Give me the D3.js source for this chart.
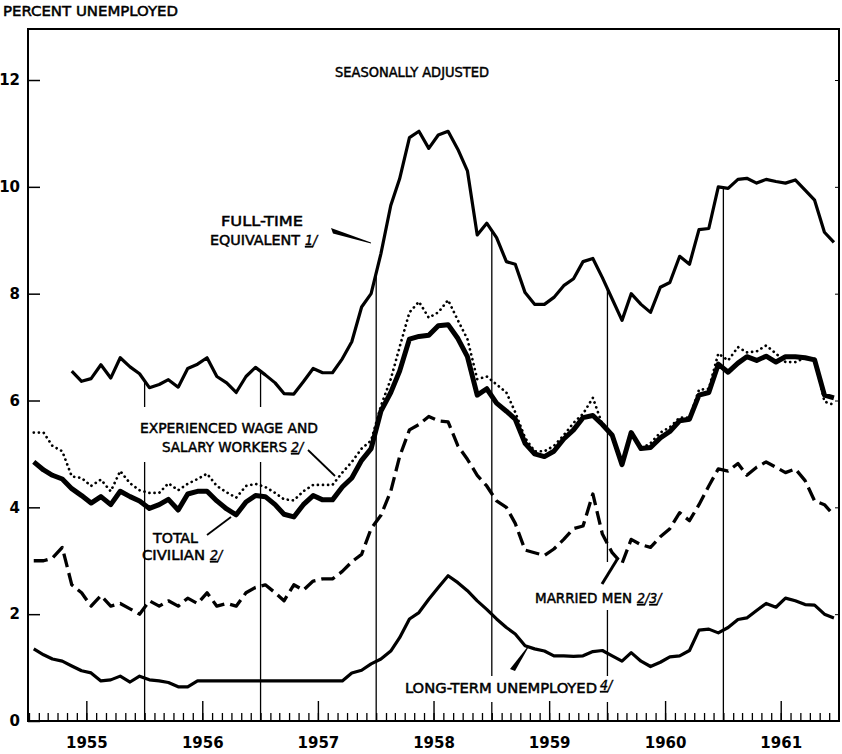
<!DOCTYPE html>
<html>
<head>
<meta charset="utf-8">
<script src="https://cdn.jsdelivr.net/npm/d3@7"></script>
<style>
  body { margin: 0; background: #fff; }
  svg { display: block; font-family: "DejaVu Sans Condensed", "DejaVu Sans", sans-serif; }
</style>
</head>
<body>
<div id="chart"></div>
<script>
// monthly values, Jan 1955 - Dec 1961 (seasonally adjusted, percent)
const years = [1955, 1956, 1957, 1958, 1959, 1960, 1961]
const yTicks = [0, 2, 4, 6, 8, 10, 12]

const fullTime = [
  null, null, null, null, 6.55, 6.36, 6.41, 6.67, 6.42, 6.8, 6.63, 6.5,
  6.24, 6.3, 6.39, 6.25, 6.6, 6.68, 6.8, 6.45, 6.33, 6.15, 6.45, 6.62,
  6.48, 6.33, 6.13, 6.12, 6.35, 6.6, 6.52, 6.52, 6.78, 7.1, 7.75, 8.0,
  8.75, 9.65, 10.15, 10.92, 11.04, 10.72, 10.97, 11.04, 10.7, 10.3, 9.1, 9.32,
  9.05, 8.6, 8.55, 8.02, 7.8, 7.8, 7.93, 8.15, 8.28, 8.6, 8.66, 8.3,
  7.9, 7.5, 8.0, 7.8, 7.65, 8.12, 8.21, 8.7, 8.55, 9.2, 9.22, 10.0,
  9.97, 10.14, 10.16, 10.07, 10.14, 10.1, 10.07, 10.13, 9.94, 9.75, 9.15, 8.96
]
const experienced = [
  5.4, 5.4, 5.15, 5.05, 4.58, 4.55, 4.4, 4.52, 4.3, 4.68, 4.45, 4.32,
  4.27, 4.27, 4.45, 4.32, 4.44, 4.53, 4.63, 4.4, 4.28, 4.18, 4.4, 4.44,
  4.38, 4.27, 4.15, 4.13, 4.3, 4.42, 4.42, 4.42, 4.65, 4.85, 5.1, 5.25,
  5.9, 6.4, 7.0, 7.65, 7.85, 7.55, 7.65, 7.88, 7.5, 7.15, 6.4, 6.45,
  6.3, 6.15, 5.78, 5.3, 5.05, 5.05, 5.15, 5.35, 5.58, 5.75, 6.05, 5.55,
  5.35, 4.85, 5.4, 5.1, 5.2, 5.4, 5.5, 5.68, 5.68, 6.2, 6.22, 6.88,
  6.75, 7.0, 6.9, 6.92, 7.03, 6.88, 6.72, 6.72, 6.8, 6.78, 5.98, 5.92
]
const totalCivilian = [
  4.85, 4.7, 4.6, 4.53, 4.35, 4.22, 4.08, 4.2, 4.05, 4.3, 4.2, 4.12,
  3.98, 4.05, 4.15, 3.95, 4.25, 4.3, 4.3, 4.12, 3.97, 3.86, 4.1, 4.22,
  4.2, 4.05, 3.87, 3.82, 4.05, 4.22, 4.14, 4.14, 4.38, 4.55, 4.88, 5.1,
  5.8, 6.15, 6.55, 7.15, 7.2, 7.22, 7.4, 7.42, 7.16, 6.82, 6.1, 6.22,
  5.95, 5.8, 5.65, 5.2, 5.0, 4.95, 5.05, 5.28, 5.45, 5.68, 5.72, 5.55,
  5.35, 4.8, 5.4, 5.1, 5.12, 5.3, 5.42, 5.62, 5.65, 6.1, 6.15, 6.68,
  6.53, 6.7, 6.82, 6.75, 6.83, 6.72, 6.82, 6.82, 6.8, 6.76, 6.1, 6.05
]
const marriedMen = [
  3.0, 3.0, 3.05, 3.25, 2.55, 2.4, 2.15, 2.35, 2.15, 2.2, 2.1, 2.0,
  2.25, 2.15, 2.25, 2.15, 2.3, 2.2, 2.4, 2.15, 2.2, 2.15, 2.4, 2.5,
  2.55, 2.4, 2.25, 2.55, 2.45, 2.62, 2.66, 2.66, 2.8, 2.98, 3.12, 3.6,
  3.85, 4.3, 4.95, 5.45, 5.55, 5.7, 5.62, 5.6, 5.15, 4.9, 4.6, 4.4,
  4.12, 4.0, 3.7, 3.2, 3.15, 3.1, 3.22, 3.4, 3.6, 3.65, 4.25, 3.5,
  3.15, 2.95, 3.4, 3.3, 3.25, 3.45, 3.6, 3.9, 3.75, 4.05, 4.4, 4.72,
  4.68, 4.82, 4.6, 4.75, 4.85, 4.75, 4.65, 4.72, 4.5, 4.12, 4.05, 3.85
]
const longTerm = [
  1.35, 1.24, 1.16, 1.12, 1.03, 0.94, 0.9, 0.75, 0.77, 0.84, 0.73, 0.84,
  0.77, 0.75, 0.72, 0.64, 0.64, 0.75, 0.75, 0.75, 0.75, 0.75, 0.75, 0.75,
  0.75, 0.75, 0.75, 0.75, 0.75, 0.75, 0.75, 0.75, 0.75, 0.9, 0.95, 1.07,
  1.16, 1.31, 1.56, 1.91, 2.03, 2.28, 2.5, 2.72, 2.59, 2.44, 2.25, 2.09,
  1.91, 1.75, 1.63, 1.41, 1.35, 1.31, 1.22, 1.22, 1.21, 1.22, 1.3, 1.32,
  1.22, 1.12, 1.28, 1.12, 1.02, 1.1, 1.2, 1.22, 1.32, 1.7, 1.72, 1.65,
  1.75, 1.9, 1.93, 2.07, 2.2, 2.13, 2.3, 2.25, 2.18, 2.17, 2.0, 1.93
]

const width = 842
const height = 754
const margin = { top: 29, right: 3, bottom: 33, left: 28 }

const start = new Date(years[0], 0, 1)
const end = new Date(years[years.length - 1] + 1, 0, 1)
const months = d3.timeMonth.range(start, end)
const midMonth = m => new Date(m.getFullYear(), m.getMonth(), 16)

const x = d3.scaleTime()
  .domain([start, end])
  .range([margin.left + 1, width - margin.right])
const y = d3.scaleLinear()
  .domain([0, 12.955])
  .range([height - margin.bottom, margin.top])

const svg = d3.select('#chart')
  .append('svg')
  .attr('width', width)
  .attr('height', height)

const series = [
  { key: 'fullTime', values: fullTime, width: 3.2 },
  { key: 'experienced', values: experienced, width: 2.7, dash: '0.1 5', cap: 'round' },
  { key: 'totalCivilian', values: totalCivilian, width: 5 },
  { key: 'marriedMen', values: marriedMen, width: 3.3, dash: '14 6' },
  { key: 'longTerm', values: longTerm, width: 3.2 }
]

//year dividers run from the axis up to the full-time curve
const dividers = years.slice(1).map(yr => {
  const i = (yr - years[0]) * 12
  return { date: new Date(yr, 0, 1), top: (fullTime[i - 1] + fullTime[i]) / 2 }
})
svg.append('g')
  .selectAll('line')
  .data(dividers)
  .join('line')
  .attr('x1', d => x(d.date))
  .attr('x2', d => x(d.date))
  .attr('y1', d => y(d.top))
  .attr('y2', y(0))
  .attr('stroke', '#000')
  .attr('stroke-width', 1.3)

// white patches where the lettering breaks the dividers
const patches = [[137, 407, 185, 55], [532, 562, 140, 48], [402, 676, 222, 26]]
svg.append('g')
  .selectAll('rect')
  .data(patches)
  .join('rect')
  .attr('x', d => d[0]).attr('y', d => d[1])
  .attr('width', d => d[2]).attr('height', d => d[3])
  .attr('fill', '#fff')

// axes
const monthAxis = d3.axisBottom(x).tickValues(months).tickSize(-8).tickFormat('')
const yearAxis = d3.axisBottom(x)
  .tickValues(years.map(yr => new Date(yr, 6, 1)))
  .tickSize(-20)
  .tickPadding(16)
  .tickFormat(d3.timeFormat('%Y'))

svg.append('g')
  .attr('transform', `translate(0,${y(0)})`)
  .call(monthAxis)
  .call(g => g.select('.domain').remove())
  .call(g => g.selectAll('line').attr('stroke-width', 1.3))
svg.append('g')
  .attr('transform', `translate(0,${y(0)})`)
  .call(yearAxis)
  .call(g => g.select('.domain').remove())
  .call(g => g.selectAll('line').attr('stroke-width', 1.4))
  .call(g => g.selectAll('text')
    .attr('font-family', '"DejaVu Sans", sans-serif')
    .attr('font-weight', 'bold')
    .attr('font-size', 15)
    .attr('fill', '#000'))

svg.append('g')
  .attr('transform', `translate(${margin.left},0)`)
  .call(d3.axisLeft(y).tickValues(yTicks).tickSize(-12).tickPadding(8))
  .call(g => g.select('.domain').remove())
  .call(g => g.selectAll('line').attr('stroke-width', 1.5))
  .call(g => g.selectAll('text')
    .attr('font-family', '"DejaVu Sans", sans-serif')
    .attr('font-weight', 'bold')
    .attr('font-size', 15)
    .attr('fill', '#000'))

svg.append('g')
  .attr('transform', `translate(${width - margin.right},0)`)
  .call(d3.axisRight(y).tickValues(yTicks.slice(1)).tickSize(-4).tickFormat(''))
  .call(g => g.select('.domain').remove())

svg.append('path')
  .attr('d', `M${margin.left},${margin.top}H${width - margin.right}V${y(0)}H${margin.left}Z`)
  .attr('fill', 'none')
  .attr('stroke', '#000')
  .attr('stroke-width', 2)

// series lines
const line = d3.line()
  .defined(d => d.v != null)
  .x(d => x(d.date))
  .y(d => y(d.v))

svg.append('g')
  .selectAll('path')
  .data(series)
  .join('path')
  .attr('d', s => line(s.values.map((v, i) => ({ date: midMonth(months[i]), v }))))
  .attr('fill', 'none')
  .attr('stroke', '#000')
  .attr('stroke-width', s => s.width)
  .attr('stroke-dasharray', s => s.dash || null)
  .attr('stroke-linecap', s => s.cap || 'butt')
  .attr('stroke-linejoin', 'round')

// lettering
const labels = [
  { t: 'PERCENT UNEMPLOYED', x: 3, y: 16, w: 175 },
  { t: 'SEASONALLY ADJUSTED', x: 335, y: 77, w: 154 },
  { t: 'FULL-TIME', x: 221, y: 226, w: 82 },
  { t: 'EQUIVALENT', x: 210, y: 245, w: 90 },
  { t: 'EXPERIENCED WAGE AND', x: 140, y: 433, w: 178 },
  { t: 'SALARY WORKERS', x: 162, y: 452, w: 125 },
  { t: 'TOTAL', x: 153, y: 543, w: 45 },
  { t: 'CIVILIAN', x: 142, y: 560, w: 63 },
  { t: 'MARRIED MEN', x: 535, y: 603, w: 97 },
  { t: 'LONG-TERM UNEMPLOYED', x: 405, y: 693, w: 192 }
]
svg.append('g')
  .selectAll('text')
  .data(labels)
  .join('text')
  .attr('x', d => d.x)
  .attr('y', d => d.y)
  .attr('textLength', d => d.w)
  .attr('lengthAdjust', 'spacingAndGlyphs')
  .attr('font-size', 14)
  .attr('stroke', '#000')
  .attr('stroke-width', 0.45)
  .text(d => d.t)

// footnote references: underlined digit followed by a slash
const notes = [
  { n: ['1'], x: 305, y: 245 },
  { n: ['2'], x: 291, y: 452 },
  { n: ['2'], x: 210, y: 560 },
  { n: ['2', '3'], x: 637, y: 603 },
  { n: ['4'], x: 600, y: 690 }
]
const noteText = svg.append('g')
  .selectAll('text')
  .data(notes)
  .join('text')
  .attr('x', d => d.x)
  .attr('y', d => d.y)
  .attr('font-size', 14)
  .attr('font-style', 'italic')
  .attr('stroke', '#000')
  .attr('stroke-width', 0.4)
noteText.each(function (d) {
  const t = d3.select(this)
  d.n.forEach(n => {
    t.append('tspan').attr('text-decoration', 'underline').text(n)
    t.append('tspan').text('/')
  })
})

// leader lines
const leaders = [
  { pts: [[308, 450], [335, 476]], w: 1.8 },
  { pts: [[207, 535], [231, 517]], w: 1.8 },
  { pts: [[602, 584], [618, 558]], w: 3 }
]
svg.append('g')
  .selectAll('line')
  .data(leaders)
  .join('line')
  .attr('x1', d => d.pts[0][0]).attr('y1', d => d.pts[0][1])
  .attr('x2', d => d.pts[1][0]).attr('y2', d => d.pts[1][1])
  .attr('stroke', '#000')
  .attr('stroke-width', d => d.w)

// tapered pointers
const wedges = [
  [[331, 228], [333, 233.5], [371, 243.5], [371, 242.5]],
  [[510, 669], [515, 671], [528, 648], [527, 647.5]]
]
svg.append('g')
  .selectAll('path')
  .data(wedges)
  .join('path')
  .attr('d', d => 'M' + d.join('L') + 'Z')
  .attr('fill', '#000')
</script>
</body>
</html>
